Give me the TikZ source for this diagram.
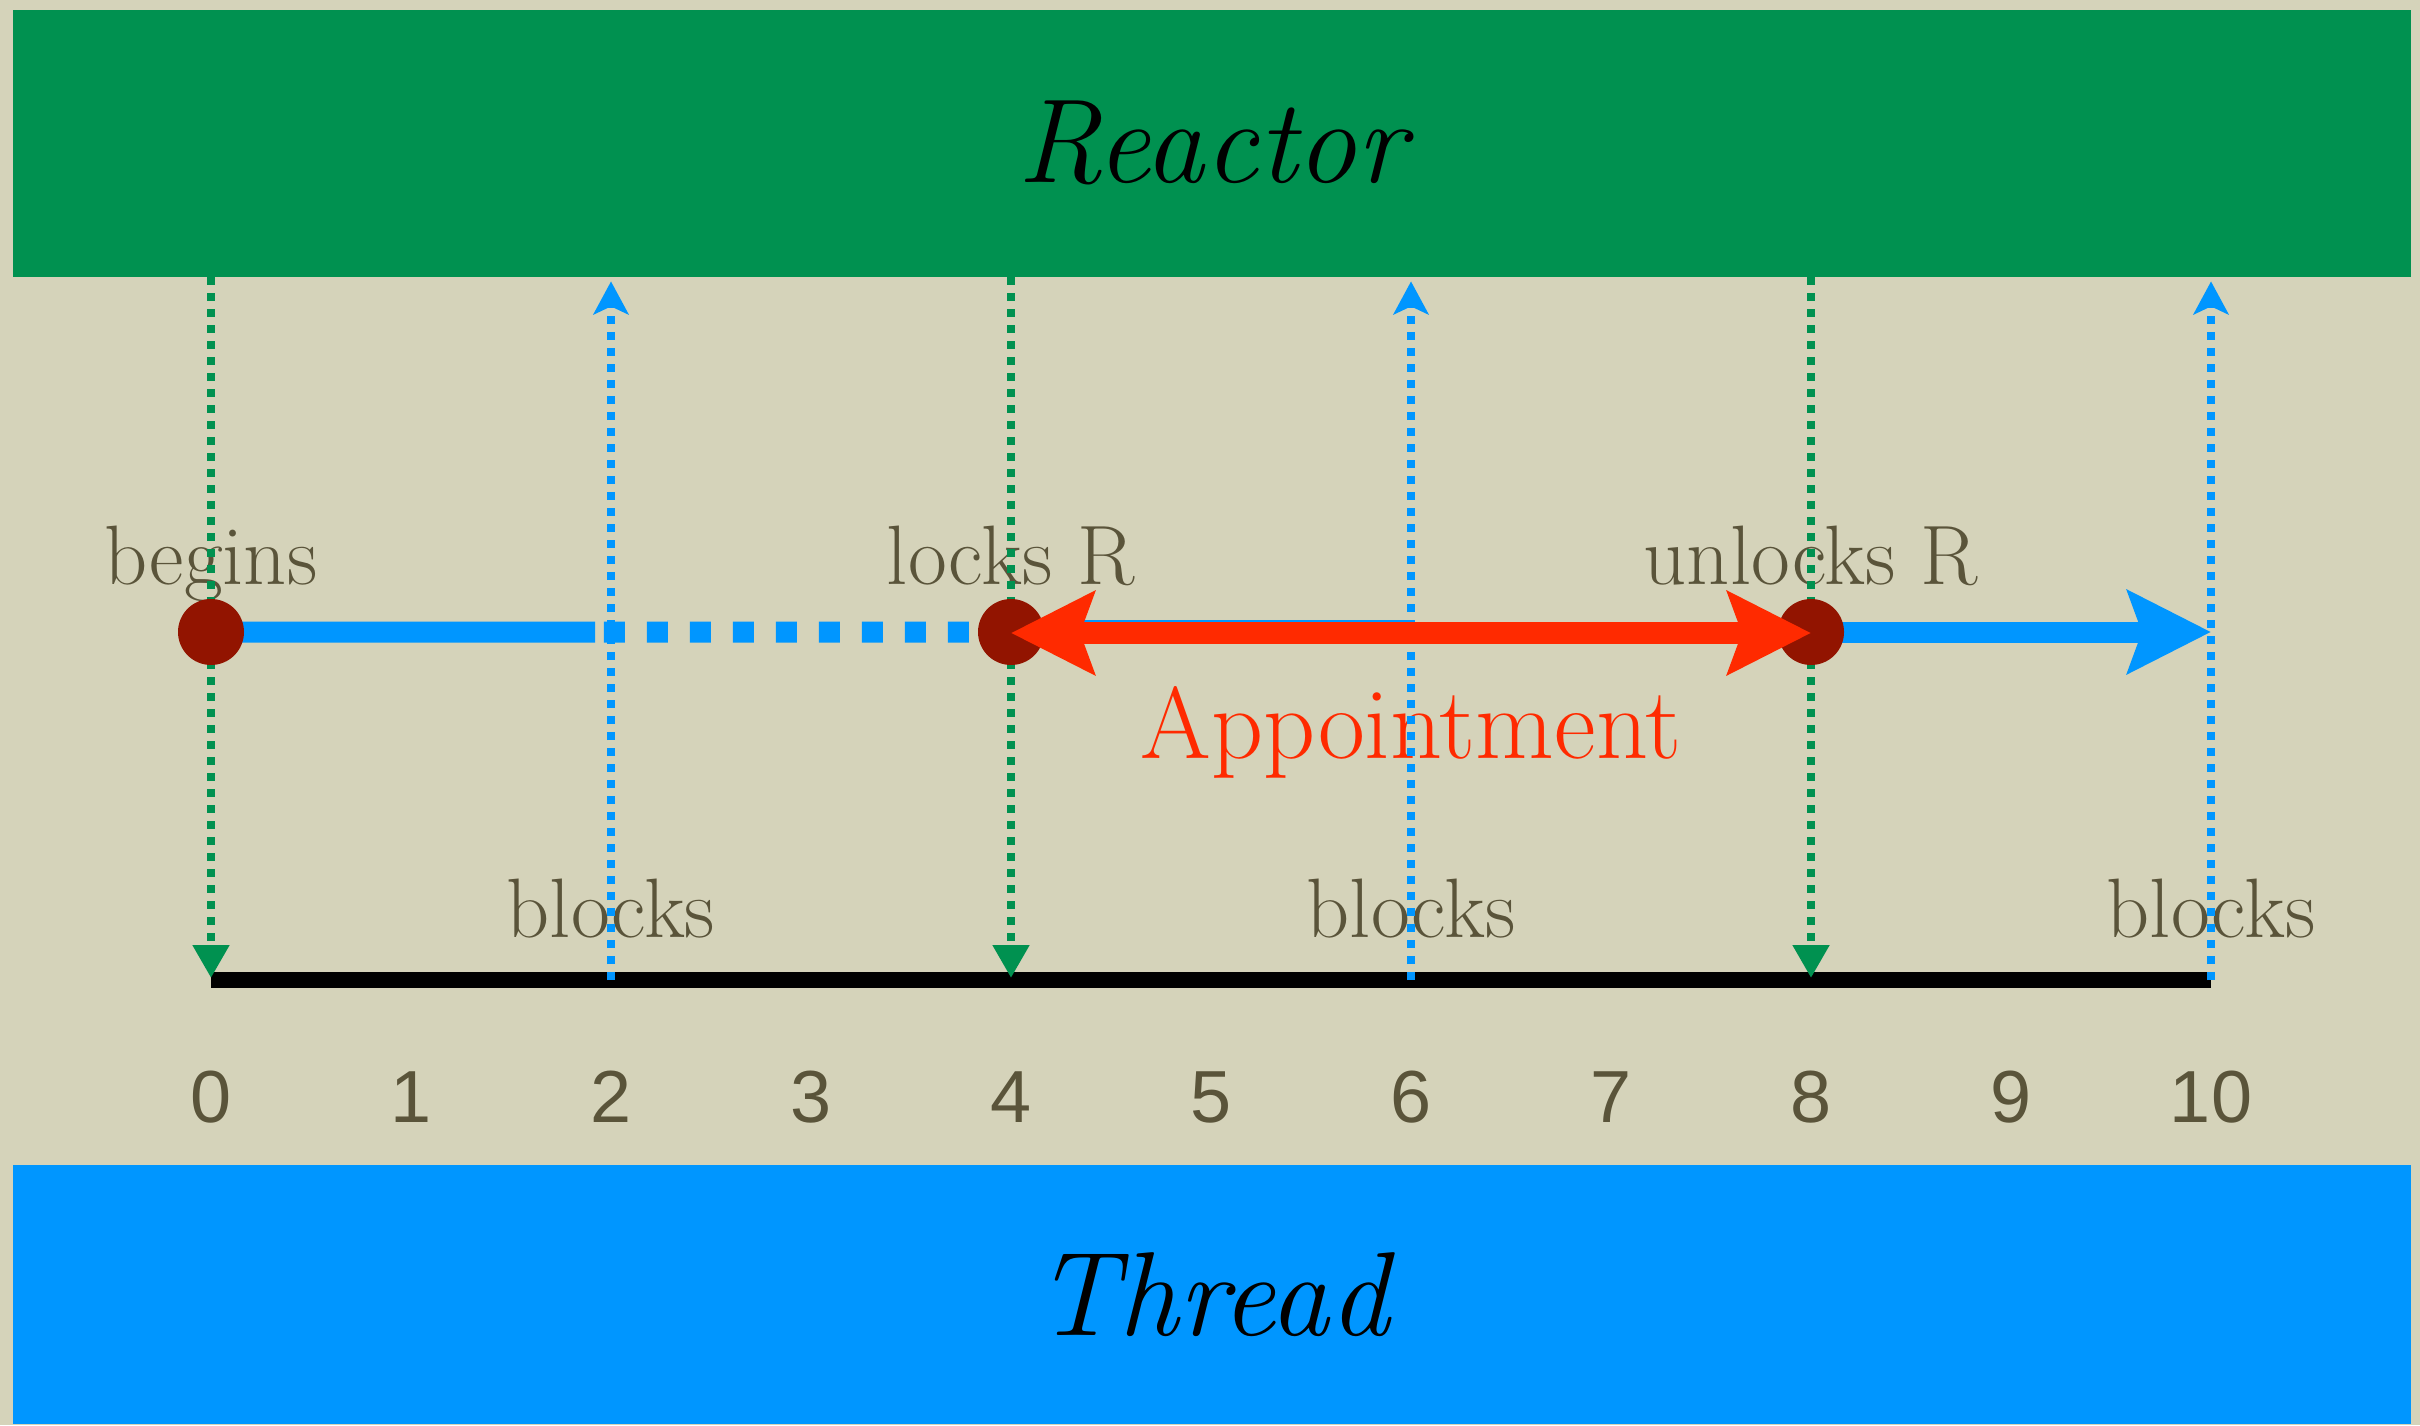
\documentclass[tikz,border=0pt]{standalone}
\usepackage{fontspec}
\newfontfamily\numfont{Liberation Sans}
\usetikzlibrary{arrows.meta,positioning,calc}

\definecolor{paper}{RGB}{213,211,186}
\definecolor{reactorgreen}{RGB}{0,145,80}
\definecolor{threadblue}{RGB}{0,150,255}
\definecolor{apptred}{RGB}{255,42,0}
\definecolor{dotred}{RGB}{146,20,0}
\definecolor{ink}{RGB}{90,84,58}

\begin{document}
\begin{tikzpicture}[
    Big/.tip={Stealth[length=0.83cm,width=0.82cm,inset=0.14cm]},
    bar/.style={minimum width=23.98cm, inner sep=0pt, font=\fontsize{34}{40}\selectfont\itshape},
    evtext/.style={text=ink, anchor=base, font=\fontsize{24}{28}\selectfont},
    numtext/.style={text=ink, anchor=base, font=\numfont\fontsize{21}{24}\selectfont},
    calldown/.style={reactorgreen, line width=0.08cm, dash pattern=on 0.08cm off 0.08cm,
        -{Triangle[length=0.33cm,width=0.35cm]}},
    callup/.style={threadblue, line width=0.08cm, dash pattern=on 0.08cm off 0.08cm,
        -{Stealth[length=0.33cm,width=0.35cm,inset=0.08cm]}, shorten >=0.04cm},
    flow/.style={threadblue, line width=0.21cm},
    evdot/.style={circle, fill=dotred, minimum size=0.66cm, inner sep=0pt},
  ]
    \def\xo{2.11}
    \def\unit{2}
    \def\ymain{7.93}
    \fill[paper] (0,0) rectangle (24.2,14.25);
    \useasboundingbox (0,0) rectangle (24.2,14.25);

    \node[bar, fill=reactorgreen, minimum height=2.67cm, anchor=north west] (reactor) at (0.12,14.16) {Reactor};
    \node[bar, fill=threadblue, minimum height=2.59cm, anchor=south west] (thread) at (0.12,0) {Thread};

    \foreach \i in {0,...,10} {
        \coordinate (t\i) at (\xo+\unit*\i,4.45);
        \node[numtext] (n\i) at (\xo+\unit*\i,3.03) {\i};
    }
    \coordinate (pbegin) at (\xo,\ymain);
    \coordinate (plock) at (\xo+4*\unit,\ymain);
    \coordinate (punlock) at (\xo+8*\unit,\ymain);
    \coordinate (pend) at (t10 |- pbegin);

    \node[evtext] (lbegin) at (\xo,8.41) {begins};
    \node[evtext] (llock) at (\xo+4*\unit,8.41) {locks R};
    \node[evtext] (lunlock) at (\xo+8*\unit,8.41) {unlocks R};
    \foreach \i in {2,6,10}
        \node[evtext] (blk\i) at (\xo+\unit*\i,4.88) {blocks};
    \node[evtext, text=apptred, font=\fontsize{29}{34}\selectfont] (appt) at (\xo+6*\unit,6.67) {Appointment};

    \draw[flow] (pbegin) -- ($(pbegin)!0.48!(plock)$);
    \draw[flow, dash pattern=on 0.21cm off 0.22cm] ($(pbegin)!0.491!(plock)$) -- (plock);
    \draw[flow] ([yshift=0.015cm]plock) -- ([yshift=0.015cm]$(plock)!0.5!(punlock)$);
    \draw[flow, -{Big}] (punlock) -- (pend);

    \draw[line width=0.16cm] (t0) -- (t10);
    \foreach \i in {0,4,8}
        \draw[calldown] (reactor.south -| t\i) -- ([yshift=0.02cm]t\i);
    \foreach \i in {2,6,10}
        \draw[callup] (t\i) -- (reactor.south -| t\i);

    \node[evdot] (begin) at (pbegin) {};
    \node[evdot] (lock) at (plock) {};
    \node[evdot] (unlock) at (punlock) {};

    \draw[apptred, line width=0.22cm, {Big}-{Big}] ([yshift=-0.01cm]lock.center) -- ([yshift=-0.01cm]unlock.center);
\end{tikzpicture}
\end{document}
